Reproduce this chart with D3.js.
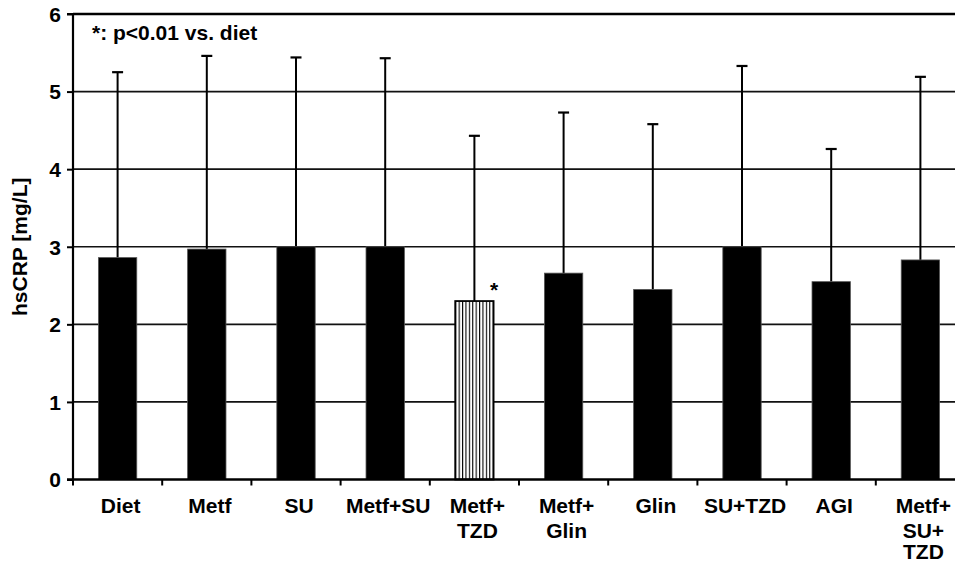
<!DOCTYPE html>
<html><head><meta charset="utf-8">
<script src="https://cdn.jsdelivr.net/npm/d3@7"></script>
<style>
html,body{margin:0;padding:0;background:#fff;}
svg{display:block;}
text{font-family:"Liberation Sans",Arial,sans-serif;font-weight:bold;fill:#000;}
</style></head>
<body><svg id="c" width="955" height="564"></svg>
<script>
const categories = ["Diet","Metf","SU","Metf+SU","Metf+\nTZD","Metf+\nGlin","Glin","SU+TZD","AGI","Metf+\nSU+\nTZD"];
const means = [2.86, 2.97, 3.0, 3.0, 2.30, 2.66, 2.45, 3.0, 2.55, 2.83];
const upper = [5.25, 5.46, 5.44, 5.43, 4.43, 4.73, 4.58, 5.33, 4.26, 5.19];
const significant = [false,false,false,false,true,false,false,false,false,false];
const yTicks = [0,1,2,3,4,5,6];
const yLabel = "hsCRP [mg/L]";
const note = "*: p<0.01 vs. diet";

const svg = d3.select("#c");
const x0 = 73, x1 = 965, yTop = 14, yBot = 479.5;
const x = d3.scaleBand().domain(categories).range([x0, x1]).paddingInner(0.57).paddingOuter(0.285);
const y = d3.scaleLinear().domain([0, 6]).range([yBot, yTop]);

const defs = svg.append("defs");
const pat = defs.append("pattern").attr("id","vstripe").attr("patternUnits","userSpaceOnUse")
  .attr("width",3.4).attr("height",10).attr("x", x(categories[4]));
pat.append("rect").attr("width",3.4).attr("height",10).attr("fill","#fff");
pat.append("rect").attr("x",0).attr("width",1.1).attr("height",10).attr("fill","#000");

// gridlines
svg.append("g").selectAll("line").data(yTicks.filter(d => d > 0 && d < 6)).join("line")
  .attr("x1", x0).attr("x2", 955).attr("y1", d => y(d)).attr("y2", d => y(d))
  .attr("stroke", "#111").attr("stroke-width", 1.6);
// top border
svg.append("line").attr("x1", x0).attr("x2", 955).attr("y1", y(6)).attr("y2", y(6))
  .attr("stroke", "#000").attr("stroke-width", 2.6);

// error bars
const eb = svg.append("g");
eb.selectAll("line.w").data(categories).join("line").attr("class","w")
  .attr("x1", d => x(d) + x.bandwidth()/2).attr("x2", d => x(d) + x.bandwidth()/2)
  .attr("y1", (d,i) => y(means[i])).attr("y2", (d,i) => y(upper[i]))
  .attr("stroke","#000").attr("stroke-width",2);
eb.selectAll("line.c").data(categories).join("line").attr("class","c")
  .attr("x1", d => x(d) + x.bandwidth()/2 - 5.5).attr("x2", d => x(d) + x.bandwidth()/2 + 5.5)
  .attr("y1", (d,i) => y(upper[i])).attr("y2", (d,i) => y(upper[i]))
  .attr("stroke","#000").attr("stroke-width",2.2);

// bars
svg.append("g").selectAll("rect").data(categories).join("rect")
  .attr("x", d => x(d)).attr("width", x.bandwidth())
  .attr("y", (d,i) => y(means[i])).attr("height", (d,i) => y(0) - y(means[i]))
  .attr("fill", (d,i) => significant[i] ? "url(#vstripe)" : "#000")
  .attr("stroke", (d,i) => significant[i] ? "#000" : "#555")
  .attr("stroke-width", (d,i) => significant[i] ? 1.8 : 0.8);

// asterisk
svg.append("g").selectAll("text").data(categories.filter((d,i) => significant[i])).join("text")
  .attr("x", d => x(d) + x.bandwidth() + 0.5).attr("y", d => y(means[categories.indexOf(d)]) - 4)
  .attr("text-anchor","middle").attr("font-size", 21).text("*");

// y axis
const ya = svg.append("g").attr("transform", `translate(${x0},0)`)
  .call(d3.axisLeft(y).tickValues(yTicks).tickSize(6).tickPadding(6).tickFormat(d3.format("d")));
ya.select(".domain").attr("stroke","#000").attr("stroke-width",2.2).attr("d", `M-6,${y(6)}H0V${y(0)}`);
ya.selectAll(".tick line").attr("stroke","#000").attr("stroke-width",2);
ya.selectAll(".tick text").attr("font-size",21).attr("font-family","Liberation Sans, Arial, sans-serif").attr("font-weight","bold").attr("dy","0.35em");

// x axis
const xa = svg.append("g").attr("transform", `translate(0,${yBot})`);
xa.append("line").attr("x1", x0 - 6).attr("x2", 955).attr("y1",0).attr("y2",0).attr("stroke","#000").attr("stroke-width",2.4);
const bounds = categories.map(d => x(d) - x.step()*x.paddingInner()/2);
xa.selectAll("line.t").data(bounds).join("line").attr("class","t")
  .attr("x1", d => d).attr("x2", d => d).attr("y1",0).attr("y2",6)
  .attr("stroke","#000").attr("stroke-width",2);
const lineY = [33, 58.5, 79.5];
const xl = xa.selectAll("text.l").data(categories).join("text").attr("class","l")
  .attr("text-anchor","middle").attr("font-size",21)
  .attr("transform", d => `translate(${x(d) + x.bandwidth()/2 + 3},0)`);
xl.selectAll("tspan").data(d => d.split("\n")).join("tspan")
  .attr("x",0).attr("y",(d,i) => lineY[i]).text(d => d);

// y label
svg.append("text").attr("transform", `translate(27,${(yTop+yBot)/2}) rotate(-90)`)
  .attr("text-anchor","middle").attr("font-size",21).text(yLabel);

// note
svg.append("text").attr("x", 92).attr("y", 39.5).attr("font-size",21).text(note);
</script></body></html>
